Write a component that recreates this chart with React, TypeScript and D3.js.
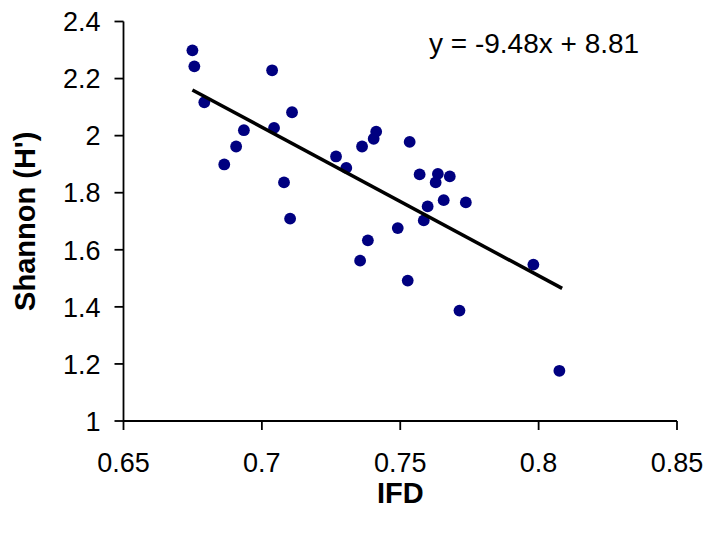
import React from "react";
import * as d3 from "d3";

const ifd = [
  0.6749, 0.6756, 0.7037, 0.6792, 0.7109, 0.7044, 0.6935, 0.6907, 0.6864, 0.708,
  0.7102, 0.7413, 0.7404, 0.7362, 0.7534, 0.7268, 0.7305, 0.757, 0.7636, 0.7679,
  0.7628, 0.7657, 0.7737, 0.7599, 0.7585, 0.7491, 0.7383, 0.7355, 0.7527, 0.7714,
  0.7981, 0.8075,
];
const shannon = [
  2.299, 2.243, 2.229, 2.117, 2.082, 2.027, 2.019, 1.962, 1.899, 1.836,
  1.709, 2.014, 1.989, 1.962, 1.978, 1.927, 1.887, 1.864, 1.866, 1.857,
  1.836, 1.774, 1.766, 1.752, 1.703, 1.676, 1.633, 1.562, 1.492, 1.387,
  1.548, 1.176,
];
const xTicks = [0.65, 0.7, 0.75, 0.8, 0.85];
const yTicks = [1, 1.2, 1.4, 1.6, 1.8, 2, 2.2, 2.4];
const equationLabel = "y = -9.48x + 8.81";
const xTitle = "IFD";
const yTitle = "Shannon (H')";

const W = 710;
const H = 533;
const left = 123.5;
const right = 677;
const top = 21.5;
const bottom = 421;
const font = "'Liberation Sans', Arial, sans-serif";

export default function App() {
  const x = d3.scaleLinear().domain([0.65, 0.85]).range([left, right]);
  const y = d3.scaleLinear().domain([1, 2.4]).range([bottom, top]);

  const n = ifd.length;
  const mx = d3.mean(ifd) as number;
  const my = d3.mean(shannon) as number;
  let sxy = 0;
  let sxx = 0;
  for (let i = 0; i < n; i++) {
    sxy += (ifd[i] - mx) * (shannon[i] - my);
    sxx += (ifd[i] - mx) * (ifd[i] - mx);
  }
  const slope = sxy / sxx;
  const icpt = my - slope * mx;
  const [x0, x1] = d3.extent(ifd) as [number, number];
  const line = d3.line<number>()
    .x((d) => x(d))
    .y((d) => y(icpt + slope * d));

  const tick = 9;
  const fmt = (v: number) => String(v);

  return (
    <svg
      width={W}
      height={H}
      style={{ position: "absolute", left: 0, top: 0, background: "#fff" }}
    >
      <rect x={0} y={0} width={W} height={H} fill="#fff" />
      <line x1={left} y1={top} x2={left} y2={bottom} stroke="#000" strokeWidth={1.8} />
      <line x1={left} y1={bottom} x2={right} y2={bottom} stroke="#000" strokeWidth={1.8} />
      {yTicks.map((t) => (
        <g key={"y" + t}>
          <line x1={left - tick} x2={left} y1={y(t)} y2={y(t)} stroke="#000" strokeWidth={1.8} />
          <text
            x={left - 23}
            y={y(t)}
            dy="0.36em"
            textAnchor="end"
            fontFamily={font}
            fontSize={27}
            fill="#000"
          >
            {fmt(t)}
          </text>
        </g>
      ))}
      {xTicks.map((t) => (
        <g key={"x" + t}>
          <line x1={x(t)} x2={x(t)} y1={bottom} y2={bottom + tick} stroke="#000" strokeWidth={1.8} />
          <text
            x={x(t)}
            y={bottom + 51}
            textAnchor="middle"
            fontFamily={font}
            fontSize={27}
            fill="#000"
          >
            {fmt(t)}
          </text>
        </g>
      ))}
      {ifd.map((v, i) => (
        <circle key={i} cx={x(v)} cy={y(shannon[i])} r={5.9} fill="#000080" />
      ))}
      <path d={line([x0, x1 + 0.001]) || ""} stroke="#000" strokeWidth={3.5} fill="none" />
      <text x={429} y={53} fontFamily={font} fontSize={28} fill="#000">
        {equationLabel}
      </text>
      <text
        x={(left + right) / 2}
        y={503}
        textAnchor="middle"
        fontFamily={font}
        fontSize={29}
        fontWeight="bold"
        fill="#000"
      >
        {xTitle}
      </text>
      <text
        transform={`translate(35, ${(top + bottom) / 2}) rotate(-90)`}
        textAnchor="middle"
        fontFamily={font}
        fontSize={29}
        fontWeight="bold"
        fill="#000"
      >
        {yTitle}
      </text>
    </svg>
  );
}
